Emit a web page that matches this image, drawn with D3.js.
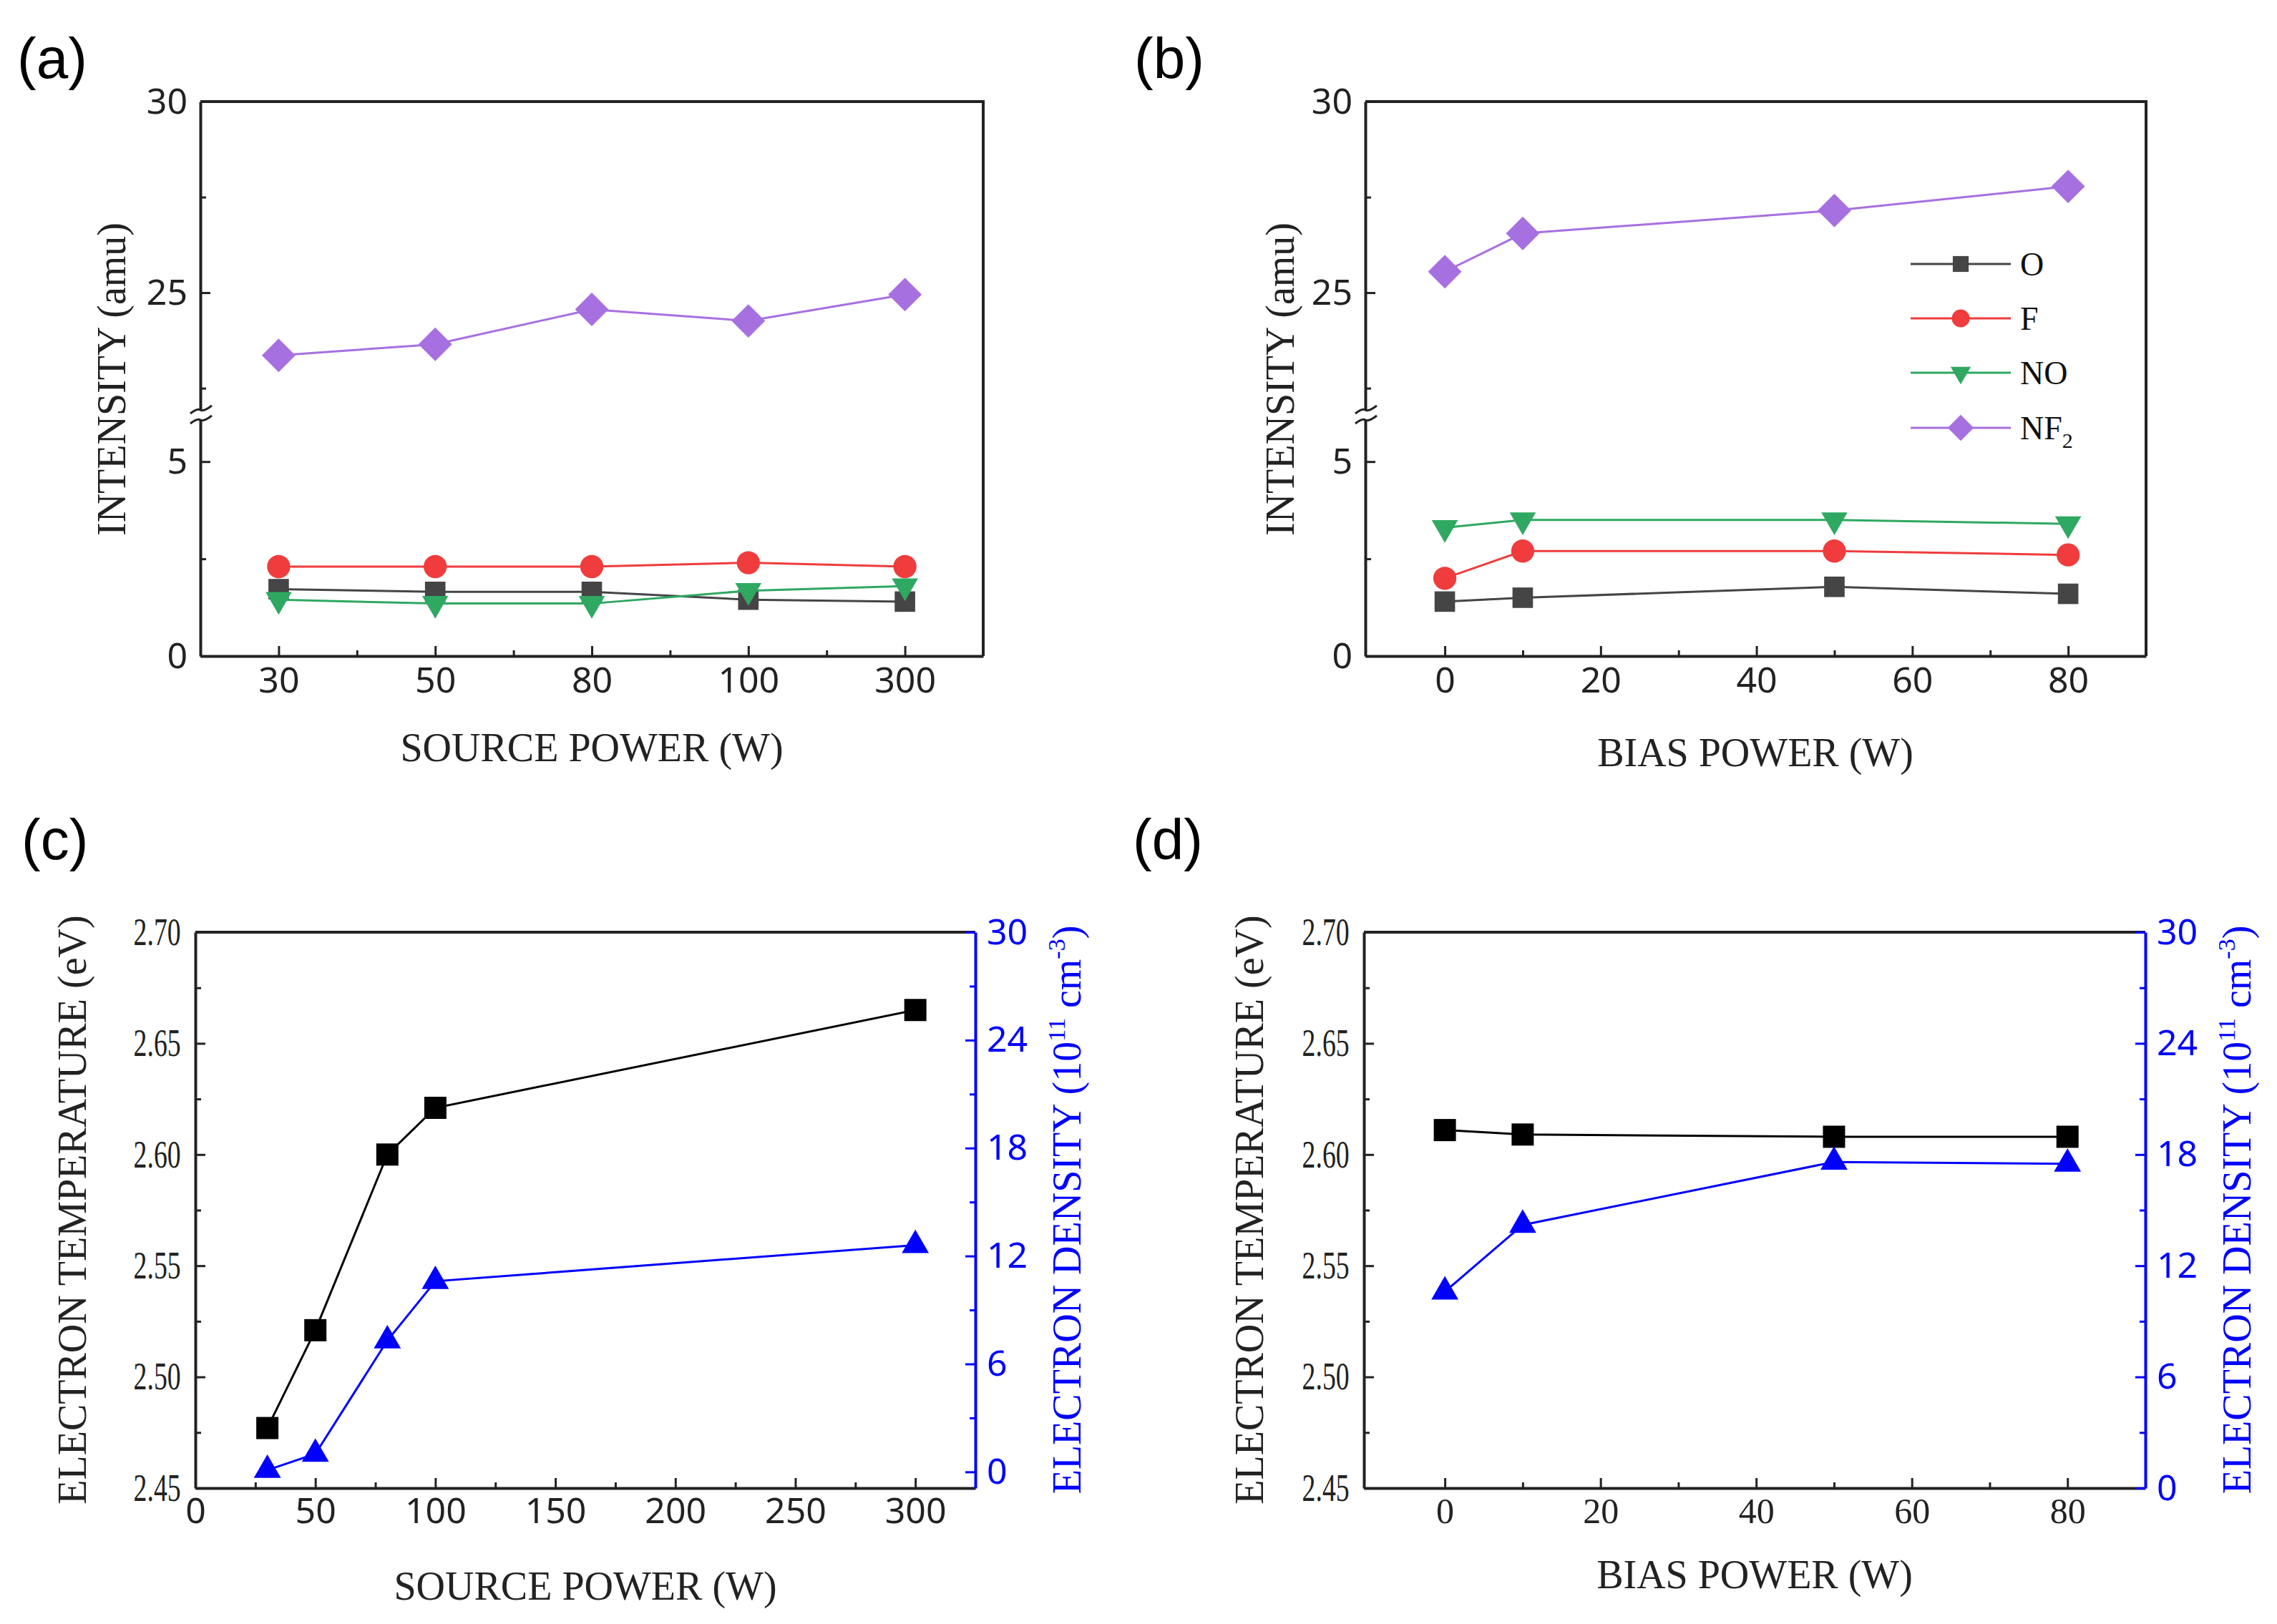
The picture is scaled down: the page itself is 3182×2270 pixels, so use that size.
<!DOCTYPE html>
<html>
<head>
<meta charset="utf-8">
<script src="https://cdn.jsdelivr.net/npm/d3@7"></script>
<style>
  body { margin: 0; background: #fff; }
</style>
</head>
<body>
<div id="viz"></div>
<script>
// ---- data ----
const sourcePower = ["30", "50", "80", "100", "300"];   // (a) categories
const sourcePowerW = [30, 50, 80, 100, 300];            // (c) x values
const biasPower = [0, 10, 50, 80];                      // (b), (d) x values
const speciesNames = ["O", "F", "NO", "NF2"];

// (a) intensity vs source power
const srcO   = [1.72, 1.65, 1.65, 1.45, 1.40];
const srcF   = [2.30, 2.30, 2.30, 2.40, 2.30];
const srcNO  = [1.45, 1.35, 1.35, 1.68, 1.80];
const srcNF2 = [23.36, 23.65, 24.56, 24.26, 24.95];

// (b) intensity vs bias power
const biasO   = [1.40, 1.50, 1.78, 1.60];
const biasF   = [2.00, 2.70, 2.70, 2.60];
const biasNO  = [3.30, 3.50, 3.50, 3.40];
const biasNF2 = [25.55, 26.55, 27.15, 27.78];

// (c) electron temperature / density vs source power
const srcTe = [2.477, 2.521, 2.600, 2.621, 2.665];
const srcNe = [0.1, 1.0, 7.3, 10.6, 12.6];

// (d) electron temperature / density vs bias power
const biasTe = [2.611, 2.609, 2.608, 2.608];
const biasNe = [10.6, 14.2, 17.6, 17.5];

// ticks
const intensityTicks = [0, 5, 25, 30];
const intensityMinor = [2.5, 22.5, 27.5];
const biasTicks = [0, 20, 40, 60, 80];
const biasMinor = [10, 30, 50, 70];
const sourceTicks = [0, 50, 100, 150, 200, 250, 300];
const sourceMinor = [25, 75, 125, 175, 225, 275];
const teTicks = [2.45, 2.50, 2.55, 2.60, 2.65, 2.70];
const teMinor = [2.475, 2.525, 2.575, 2.625, 2.675];
const neTicks = [0, 6, 12, 18, 24, 30];
const neMinor = [3, 9, 15, 21, 27];

// ---- styling ----
const serif = "'Liberation Serif', 'Times New Roman', serif";
const sans = "'Noto Sans', 'Open Sans', sans-serif";
const panelFont = "'Liberation Sans', Arial, sans-serif";
const speciesColors = ["#454545", "#f03c3c", "#2fa862", "#a770e0"];
const speciesShapes = ["square", "circle", "down", "diamond"];
const speciesSizes = [820, 820, 580, 1100];
const blue = "#0000ff";

const svg = d3.select("#viz")
    .append("svg")
        .attr("width", 3182)
        .attr("height", 2270)
        .style("background", "#fff");

function styleAxis(g, family, size, color) {
    g.attr("font-family", family).attr("font-size", size);
    g.select(".domain").attr("stroke", color).attr("stroke-width", 4);
    g.selectAll(".tick line").attr("stroke", color).attr("stroke-width", 3);
    g.selectAll(".tick text").attr("fill", color);
}

function minorAxis(g, axis, color) {
    g.call(axis.tickSize(-8).tickFormat(""));
    g.select(".domain").remove();
    g.selectAll(".tick line").attr("stroke", color).attr("stroke-width", 3);
}

function drawMarkers(g, pts, shape, size, color) {
    const types = {square: d3.symbolSquare, circle: d3.symbolCircle, down: d3.symbolTriangle,
                   up: d3.symbolTriangle, diamond: d3.symbolSquare};
    const rot = {square: 0, circle: 0, down: 180, up: 0, diamond: 45};
    g.selectAll(null)
        .data(pts)
        .enter()
        .append("path")
            .attr("d", d3.symbol().type(types[shape]).size(size))
            .attr("fill", color)
            .attr("transform", d => `translate(${d[0]},${d[1]}) rotate(${rot[shape]})`);
}

function drawSeries(g, pts, shape, size, color, width) {
    g.append("path")
        .attr("d", d3.line()(pts))
        .attr("fill", "none")
        .attr("stroke", color)
        .attr("stroke-width", width);
    drawMarkers(g, pts, shape, size, color);
}

function panelLabel(text, x, y) {
    svg.append("text")
        .attr("x", x).attr("y", y)
        .attr("font-family", panelFont)
        .attr("font-size", 80)
        .text(text);
}

function xTitle(text, x, y) {
    svg.append("text")
        .attr("x", x).attr("y", y)
        .attr("text-anchor", "middle")
        .attr("font-family", serif)
        .attr("font-size", 56)
        .attr("fill", "#222")
        .text(text);
}

function yTitle(text, x, y, color) {
    return svg.append("text")
        .attr("transform", `translate(${x},${y}) rotate(-90)`)
        .attr("text-anchor", "middle")
        .attr("font-family", serif)
        .attr("font-size", 56)
        .attr("fill", color || "#222")
        .text(text);
}

function axisBreak(x, y) {
    svg.append("rect")
        .attr("x", x - 8).attr("y", y - 7)
        .attr("width", 16).attr("height", 14)
        .attr("fill", "#fff");
    [-7, 7].forEach(function(dy) {
        svg.append("path")
            .attr("d", `M${x - 14},${y + dy + 5} Q${x - 4},${y + dy - 3} ${x},${y + dy} T${x + 16},${y + dy - 6}`)
            .attr("fill", "none")
            .attr("stroke", "#222")
            .attr("stroke-width", 3);
    });
}

// ---- intensity panels (a), (b) ----
function intensityPanel(box, xs, xAxis, xMinor, series) {
    const y = d3.scaleLinear()
        .domain([0, 6.2, 21.8, 30])
        .range([box.bottom, 580, 580, box.top]);

    const g = svg.append("g");
    g.append("path")
        .attr("d", `M${box.left},${box.top} H${box.right} V${box.bottom}`)
        .attr("fill", "none").attr("stroke", "#222").attr("stroke-width", 4);

    const gx = g.append("g").attr("transform", `translate(0,${box.bottom})`);
    gx.call(xAxis.tickSize(-14).tickSizeOuter(0).tickPadding(15));
    styleAxis(gx, sans, 50, "#222");
    minorAxis(g.append("g").attr("transform", `translate(0,${box.bottom})`), xMinor, "#222");

    const gy = g.append("g").attr("transform", `translate(${box.left},0)`);
    gy.call(d3.axisLeft(y).tickValues(intensityTicks).tickSize(-14).tickSizeOuter(0).tickPadding(18));
    styleAxis(gy, sans, 50, "#222");
    minorAxis(g.append("g").attr("transform", `translate(${box.left},0)`),
        d3.axisLeft(y).tickValues(intensityMinor), "#222");

    axisBreak(box.left, 580);

    series.forEach(function(vals, i) {
        const pts = vals.map((v, j) => [xs[j], y(v)]);
        drawSeries(svg.append("g"), pts, speciesShapes[i], speciesSizes[i], speciesColors[i], 3);
    });
}

// (a)
const boxA = {left: 280, right: 1374, top: 142, bottom: 917};
const xA = d3.scalePoint().domain(sourcePower).range([boxA.left, boxA.right]).padding(0.5);
const xAminor = d3.scaleLinear().domain([-0.5, sourcePower.length - 0.5]).range([boxA.left, boxA.right]);
intensityPanel(boxA, sourcePower.map(d => xA(d)), d3.axisBottom(xA),
    d3.axisBottom(xAminor).tickValues([0.5, 1.5, 2.5, 3.5]),
    [srcO, srcF, srcNO, srcNF2]);

// (b)
const boxB = {left: 1908, right: 2999, top: 142, bottom: 917};
const xB = d3.scaleLinear().domain([-10.2, 90]).range([boxB.left, boxB.right]);
intensityPanel(boxB, biasPower.map(d => xB(d)), d3.axisBottom(xB).tickValues(biasTicks),
    d3.axisBottom(xB).tickValues(biasMinor),
    [biasO, biasF, biasNO, biasNF2]);

// legend in (b)
const legendY = [369, 445, 521, 598];
speciesNames.forEach(function(name, i) {
    const lg = svg.append("g");
    lg.append("line")
        .attr("x1", 2670).attr("x2", 2810)
        .attr("y1", legendY[i]).attr("y2", legendY[i])
        .attr("stroke", speciesColors[i]).attr("stroke-width", 3);
    drawMarkers(lg, [[2740, legendY[i]]], speciesShapes[i], speciesSizes[i] * 0.6, speciesColors[i]);
    const t = lg.append("text")
        .attr("x", 2823).attr("y", legendY[i] + 16)
        .attr("font-family", serif)
        .attr("font-size", 46)
        .attr("fill", "#111");
    if (name === "NF2") {
        t.append("tspan").text("NF");
        t.append("tspan").attr("dy", 12).attr("font-size", 30).text("2");
    } else {
        t.text(name);
    }
});

// ---- plasma panels (c), (d) ----
function plasmaPanel(box, x, xAxis, xMinor, xFont, neDomain, xs, te, ne) {
    const yL = d3.scaleLinear().domain([2.45, 2.70]).range([box.bottom, box.top]);
    const yR = d3.scaleLinear().domain(neDomain).range([box.bottom, box.top]);

    const g = svg.append("g");
    g.append("line")
        .attr("x1", box.left).attr("x2", box.right)
        .attr("y1", box.top).attr("y2", box.top)
        .attr("stroke", "#222").attr("stroke-width", 4);

    const gx = g.append("g").attr("transform", `translate(0,${box.bottom})`);
    gx.call(xAxis.tickSize(-14).tickSizeOuter(0).tickPadding(13));
    styleAxis(gx, xFont, 50, "#222");
    minorAxis(g.append("g").attr("transform", `translate(0,${box.bottom})`), xMinor, "#222");

    // the left tick labels are set in a narrow serif in the figure
    const gl = g.append("g").attr("transform", `translate(${box.left},0)`);
    gl.call(d3.axisLeft(yL).tickValues(teTicks).tickFormat(d3.format(".2f"))
        .tickSize(-14).tickSizeOuter(0).tickPadding(29));
    styleAxis(gl, serif, 54, "#222");
    gl.selectAll(".tick text").attr("transform", "scale(0.7,1)");
    minorAxis(g.append("g").attr("transform", `translate(${box.left},0)`),
        d3.axisLeft(yL).tickValues(teMinor), "#222");

    const gr = g.append("g").attr("transform", `translate(${box.right},0)`);
    gr.call(d3.axisRight(yR).tickValues(neTicks).tickSize(-14).tickSizeOuter(0).tickPadding(16));
    styleAxis(gr, sans, 50, blue);
    minorAxis(g.append("g").attr("transform", `translate(${box.right},0)`),
        d3.axisRight(yR).tickValues(neMinor), blue);

    drawSeries(svg.append("g"), xs.map((d, i) => [x(d), yL(te[i])]), "square", 960, "#000", 3);
    drawSeries(svg.append("g"), xs.map((d, i) => [x(d), yR(ne[i])]), "up", 620, blue, 3);
}

function densityTitle(x, y) {
    const t = yTitle("", x, y, blue);
    t.append("tspan").text("ELECTRON DENSITY (10");
    t.append("tspan").attr("dy", -22).attr("font-size", 34).text("11");
    t.append("tspan").attr("dy", 22).text(" cm");
    t.append("tspan").attr("dy", -22).attr("font-size", 34).text("-3");
    t.append("tspan").attr("dy", 22).text(")");
}

// (c)
const boxC = {left: 273, right: 1363, top: 1303, bottom: 2080};
const xC = d3.scaleLinear().domain([0, 325]).range([boxC.left, boxC.right]);
plasmaPanel(boxC, xC, d3.axisBottom(xC).tickValues(sourceTicks), d3.axisBottom(xC).tickValues(sourceMinor),
    sans, [-0.9, 30], sourcePowerW, srcTe, srcNe);

// (d)
const boxD = {left: 1906, right: 2998, top: 1303, bottom: 2080};
const xD = d3.scaleLinear().domain([-10.4, 90]).range([boxD.left, boxD.right]);
plasmaPanel(boxD, xD, d3.axisBottom(xD).tickValues(biasTicks), d3.axisBottom(xD).tickValues(biasMinor),
    serif, [0, 30], biasPower, biasTe, biasNe);

// ---- titles and panel letters ----
xTitle("SOURCE POWER (W)", 827, 1064);
xTitle("BIAS POWER (W)", 2453, 1071);
xTitle("SOURCE POWER (W)", 818, 2236);
xTitle("BIAS POWER (W)", 2452, 2220);

yTitle("INTENSITY (amu)", 175, 530);
yTitle("INTENSITY (amu)", 1808, 530);
yTitle("ELECTRON TEMPERATURE (eV)", 120, 1691);
yTitle("ELECTRON TEMPERATURE (eV)", 1765, 1691);
densityTitle(1510, 1691);
densityTitle(3145, 1691);

panelLabel("(a)", 24, 109);
panelLabel("(b)", 1585, 109);
panelLabel("(c)", 30, 1201);
panelLabel("(d)", 1583, 1201);
</script>
</body>
</html>
